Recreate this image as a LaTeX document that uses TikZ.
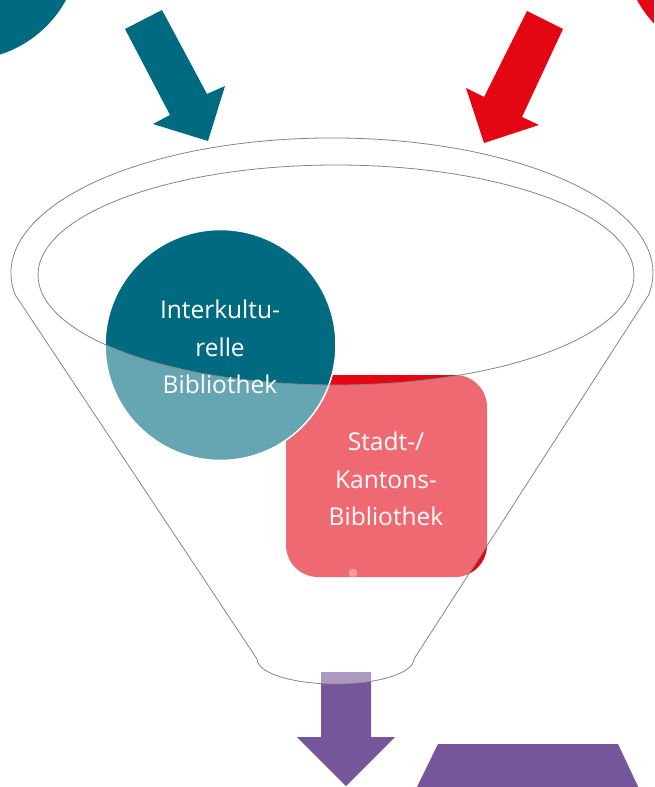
\documentclass[tikz,border=0pt]{standalone}
\usepackage{fontspec}
\setmainfont{Open Sans}
\definecolor{petrol}{HTML}{006A80}
\definecolor{signalred}{HTML}{E30613}
\definecolor{funnelviolet}{HTML}{76569A}
\definecolor{rimgray}{HTML}{858585}

\begin{document}
\begin{tikzpicture}[x=1pt,y=-1pt,
  rim/.style={draw=rimgray, line width=0.8pt},
  libtext/.style={text=white, align=center, font=\fontsize{24.5}{37.5}\selectfont},
  veil/.style={fill=white, fill opacity=0.4}]
\useasboundingbox (0,0) rectangle (654,787);
\clip (0,0) rectangle (654,787);
% partly hidden circles at the top corners
\fill[petrol] (-35,-55) circle (115);
\fill[signalred] (738,-55) circle (115);
% arrows into the funnel
\fill[petrol] (125,29) -- (162,10) -- (207,94) -- (225,86) -- (208,141) -- (153,124) -- (170,115) -- cycle;
\fill[signalred] (527,11) -- (563,29) -- (522,117) -- (539,125) -- (484,143) -- (466,88) -- (484,97) -- cycle;
% shapes in the funnel
\fill[signalred, rounded corners=32] (286,375) rectangle (487,577);
\fill[petrol, draw=white, line width=1.5pt] (220.5,345) circle (115.5);
% arrow out of the funnel and result
\fill[funnelviolet] (321,672) -- (371,672) -- (371,737) -- (395,737) -- (346,786) -- (297,737) -- (321,737) -- cycle;
\fill[funnelviolet] (438,744) -- (618,744) -- (643,797) -- (412,797) -- cycle;
% front of the funnel
\fill[veil, even odd rule] (15.3,295) arc[start angle=170.6, end angle=369.4, x radius=321, y radius=135]
  -- (414,659) arc[start angle=0, end angle=180, x radius=78.5, y radius=25] -- cycle
  (336,275) ellipse[x radius=298, y radius=110];
\fill[white, fill opacity=0.35] (353,573) circle (4.3);
\draw[rim] (15.3,295) arc[start angle=170.6, end angle=369.4, x radius=321, y radius=135]
  -- (414,659) arc[start angle=0, end angle=180, x radius=78.5, y radius=25] -- cycle;
\draw[rim] (336,275) ellipse[x radius=298, y radius=110];
% labels
\node[libtext] (interkultur) at (220,347) {Interkultu-\\relle\\Bibliothek};
\node[libtext] (stadtbib) at (386,479) {Stadt-/\\Kantons-\\Bibliothek};
\end{tikzpicture}
\end{document}
